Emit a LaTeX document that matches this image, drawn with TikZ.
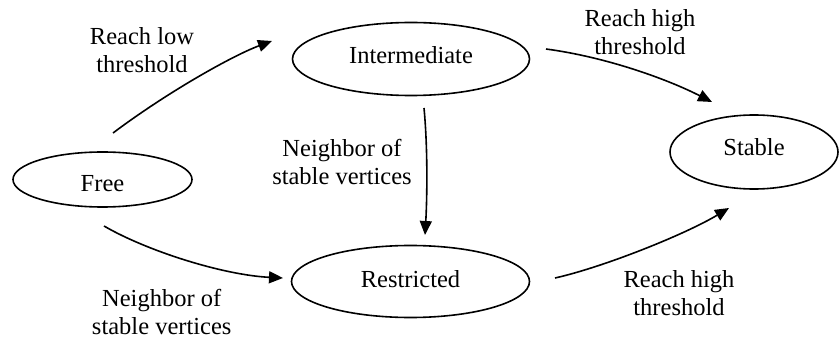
\documentclass[tikz,border=0pt]{standalone}
\usepackage{fontspec}
\setmainfont{Liberation Serif}
\usetikzlibrary{shapes.geometric,arrows.meta}
\begin{document}
\begin{tikzpicture}[x=1pt,y=-1pt,
  state/.style={draw,ellipse,line width=1.6pt,inner sep=0pt,text height=17.15pt,
    font=\fontsize{24.5}{28}\selectfont},
  lbl/.style={align=center,inner sep=0pt,font=\fontsize{24.5}{28}\selectfont},
  arr/.style={line width=1.6pt,-{Triangle[length=14pt,width=12pt]}}]
\useasboundingbox (0,0) rectangle (840,339);
% states
\node[state,minimum width=179pt,minimum height=55pt,text height=24.5pt,text depth=0pt] (free) at (102.5,179.5) {Free};
\node[state,minimum width=237pt,minimum height=73pt,text depth=9.1pt] (inter) at (411,59) {Intermediate};
\node[state,minimum width=238pt,minimum height=72pt,text depth=6.1pt] (restr) at (410.5,281.5) {Restricted};
\node[state,minimum width=168pt,minimum height=74pt,text depth=11.1pt] (stable) at (754,152) {Stable};
% labels
\node[lbl] (l1) at (142,50.5) {Reach low\\threshold};
\node[lbl] (l2) at (640,32.5) {Reach high\\threshold};
\node[lbl] (l3) at (342,162) {Neighbor of\\stable vertices};
\node[lbl] (l4) at (161.7,312) {Neighbor of\\stable vertices};
\node[lbl] (l5) at (679,292.7) {Reach high\\threshold};
% connector end points
\coordinate (fi1) at (113,133);  \coordinate (fi2) at (272,41);
\coordinate (is1) at (546,49);   \coordinate (is2) at (712,102);
\coordinate (ir1) at (424,108);  \coordinate (ir2) at (425,235);
\coordinate (fr1) at (104,226);  \coordinate (fr2) at (283,278);
\coordinate (rs1) at (555,278);  \coordinate (rs2) at (729,208);
% connectors
\draw[arr] (fi1) .. controls (169,91) and (234,55) .. (fi2);
\draw[arr] (is1) .. controls (606,57) and (667,79) .. (is2);
\draw[arr] (ir1) .. controls (428,150) and (427,200) .. (ir2);
\draw[arr] (fr1) .. controls (147,251) and (223,275) .. (fr2);
\draw[arr] (rs1) .. controls (604,267) and (686,234) .. (rs2);
\end{tikzpicture}
\end{document}
